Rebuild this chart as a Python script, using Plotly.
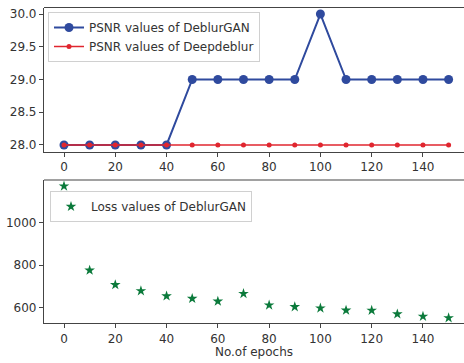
import plotly.graph_objects as go

epochs = [0, 10, 20, 30, 40, 50, 60, 70, 80, 90, 100, 110, 120, 130, 140, 150]
psnr_deblurgan = [28, 28, 28, 28, 28, 29, 29, 29, 29, 29, 30, 29, 29, 29, 29, 29]
psnr_deepdeblur = [28] * 16
loss_deblurgan = [1172, 776, 708, 679, 655, 643, 630, 666, 612, 604, 598, 588, 587, 570, 559, 552]
x_ticks = [0, 20, 40, 60, 80, 100, 120, 140]

W, H = 464, 363
L = 44
FONT = "DejaVu Sans, sans-serif"
TXT = "#333333"
FS = 12

fig = go.Figure()
fig.add_trace(go.Scatter(x=epochs, y=psnr_deblurgan, mode="lines+markers",
                         name="PSNR values of DeblurGAN",
                         line=dict(color="#2f4a9e", width=2),
                         marker=dict(color="#2f4a9e", size=9),
                         xaxis="x", yaxis="y", legend="legend"))
fig.add_trace(go.Scatter(x=epochs, y=psnr_deepdeblur, mode="lines+markers",
                         name="PSNR values of Deepdeblur",
                         line=dict(color="#e0262f", width=1.5),
                         marker=dict(color="#e0262f", size=5),
                         xaxis="x", yaxis="y", legend="legend"))
fig.add_trace(go.Scatter(x=epochs, y=loss_deblurgan, mode="markers",
                         name="Loss values of DeblurGAN",
                         marker=dict(color="#0b7a3b", size=8, symbol="star"),
                         xaxis="x2", yaxis="y2", legend="legend2", cliponaxis=True))

top_dom = [1 - 151.5 / H, 1 - 7.5 / H]
bot_dom = [1 - 323 / H, 1 - 180 / H]
xr = [-7.8, 156.0]

axis_common = dict(showgrid=False, zeroline=False, showline=True, linecolor="#444444",
                   linewidth=1.2, ticks="outside", ticklen=4, tickcolor="#444444",
                   tickfont=dict(family=FONT, size=FS, color=TXT), automargin=False,
                   mirror=False)

fig.update_layout(
    width=W, height=H,
    margin=dict(l=L, r=0, t=0, b=0),
    paper_bgcolor="white", plot_bgcolor="white",
    font=dict(family=FONT, size=FS, color=TXT),
    xaxis=dict(domain=[0, 1], range=xr, anchor="y", tickvals=x_ticks, **axis_common),
    yaxis=dict(domain=top_dom, range=[27.9, 30.1], anchor="x",
               tickvals=[28.0, 28.5, 29.0, 29.5, 30.0], tickformat=".1f", **axis_common),
    xaxis2=dict(domain=[0, 1], range=xr, anchor="y2", tickvals=x_ticks,
                title=dict(text="No.of epochs", font=dict(family=FONT, size=FS, color=TXT), standoff=2),
                **axis_common),
    yaxis2=dict(domain=bot_dom, range=[528, 1201], anchor="x2",
                tickvals=[600, 800, 1000], **axis_common),
    legend=dict(x=(48 - L) / (W - L), y=1 - 12 / H, xanchor="left", yanchor="top",
                bordercolor="#d0d0d0", borderwidth=1, bgcolor="rgba(255,255,255,0.85)",
                font=dict(family=FONT, size=FS, color=TXT), tracegroupgap=0,
                itemwidth=30),
    legend2=dict(x=(50 - L) / (W - L), y=1 - 191 / H, xanchor="left", yanchor="top",
                 bordercolor="#d0d0d0", borderwidth=1, bgcolor="rgba(255,255,255,0.85)",
                 font=dict(family=FONT, size=FS, color=TXT), itemwidth=30),
    showlegend=True,
)

# top spines
for ref in ["x domain", "x2 domain"]:
    yref = "y domain" if ref == "x domain" else "y2 domain"
    fig.add_shape(type="line", xref=ref, yref=yref, x0=0, x1=1, y0=1, y1=1,
                  line=dict(color="#444444", width=1.2))

fig.write_html("out.html", config={"displayModeBar": False},
               post_script="document.body.style.margin='0px';")
